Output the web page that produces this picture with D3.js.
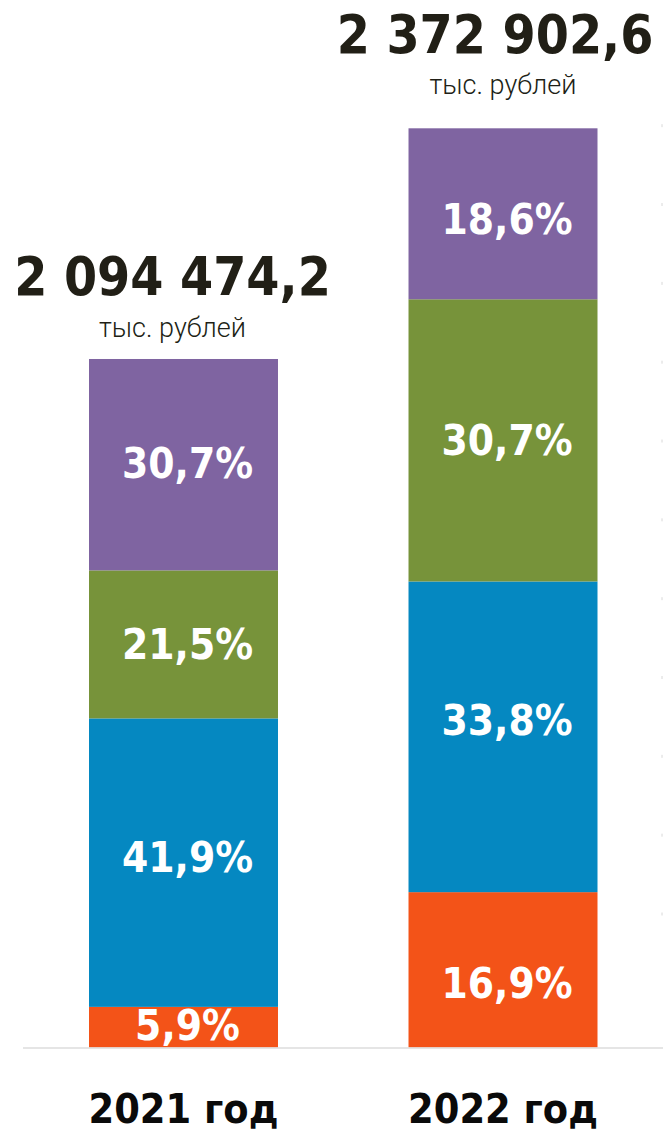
<!DOCTYPE html>
<html>
<head>
<meta charset="utf-8">
<script src="https://cdn.jsdelivr.net/npm/d3@7"></script>
<style>
  body { margin: 0; background: #fff; }
  #chart { width: 663px; height: 1132px; }
  .pct { font-family: "DejaVu Sans Condensed", "DejaVu Sans"; font-weight: bold; fill: #fff; }
  .total { font-family: "DejaVu Sans Condensed", "DejaVu Sans"; font-weight: bold; fill: #211f16; }
  .unit { font-family: Roboto, "Open Sans"; font-weight: 300; fill: #211f16; }
  .year { font-family: "DejaVu Sans Condensed", "DejaVu Sans"; font-weight: bold; fill: #0a0a0a; }
</style>
</head>
<body>
<div id="chart"></div>
<script>
// ---------------- data ----------------
const years = ["2021 год", "2022 год"];
const totals = [2094474.2, 2372902.6];
const totalLabels = ["2 094 474,2", "2 372 902,6"];
const unitLabel = "тыс. рублей";
// shares, bottom to top
const segments = ["orange", "blue", "green", "purple"];
const shares2021 = [5.9, 41.9, 21.5, 30.7];
const shares2022 = [16.9, 33.8, 30.7, 18.6];
const colors = ["#f35318", "#0588c1", "#77933a", "#7f64a1"];
const gridTicks = d3.range(0, 11);

// ---------------- layout ----------------
const width = 663, height = 1132;
const baseline = 1047.5;
const svg = d3.select("#chart").append("svg")
  .attr("width", width).attr("height", height);

const x = d3.scaleBand().domain(years).range([89, 597.5]).paddingInner(0.4085).paddingOuter(0);
// value axis does not start at zero in the original
const y = d3.scaleLinear().domain([1263500, 2372902.6]).range([baseline, 128.3]);
const color = d3.scaleOrdinal().domain(segments).range(colors);

// label nudges (px) per bar, bottom to top
const labelNudge = [[-2, -6, 0, -2], [13, -17, 0, 5]];

// faint right-side ticks
const tickScale = d3.scaleLinear().domain([0, 10]).range([125.7, 914]);
svg.append("g")
  .selectAll("line")
  .data(gridTicks)
  .join("line")
  .attr("x1", 662).attr("x2", 662)
  .attr("y1", (d) => tickScale(d) - 1.5)
  .attr("y2", (d) => tickScale(d) + 1.5)
  .attr("stroke", "#d8d8d8")
  .attr("stroke-width", 1);

// build stacked rows
const shares = [shares2021, shares2022];
const rows = [];
years.forEach((yr, i) => {
  const top = y(totals[i]);
  const h = baseline - top;
  let cum = 0;
  shares[i].forEach((s, j) => {
    const y0 = baseline - (cum / 100) * h;
    cum += s;
    const y1 = baseline - (cum / 100) * h;
    rows.push({ year: yr, seg: segments[j], share: s, y0, y1, nudge: labelNudge[i][j] });
  });
});

const bars = svg.append("g");
bars.selectAll("rect")
  .data(rows)
  .join("rect")
  .attr("x", (d) => x(d.year))
  .attr("width", x.bandwidth())
  .attr("y", (d) => d.y1)
  .attr("height", (d) => d.y0 - d.y1)
  .attr("fill", (d) => color(d.seg));

// percent labels
bars.selectAll("text")
  .data(rows)
  .join("text")
  .attr("class", "pct")
  .attr("text-anchor", "middle")
  .attr("font-size", 42)
  .attr("x", (d) => x(d.year) + x.bandwidth() / 2 + 4)
  .attr("y", (d) => (d.y0 + d.y1) / 2 + 15 + d.nudge)
  .text((d) => d3.format(".1f")(d.share).replace(".", ",") + "%");

// baseline
svg.append("line")
  .attr("x1", 23).attr("x2", width)
  .attr("y1", baseline + 0.5).attr("y2", baseline + 0.5)
  .attr("stroke", "#dcdcdc")
  .attr("stroke-width", 1.5);

// totals above bars
const totalShift = [-11, -8];
const totalGap = [64, 75];
const unitShift = [-11, 0];
const unitGap = [22, 34];

svg.selectAll(".total")
  .data(years)
  .join("text")
  .attr("class", "total")
  .attr("text-anchor", "middle")
  .attr("font-size", 53)
  .attr("x", (d, i) => x(d) + x.bandwidth() / 2 + totalShift[i])
  .attr("y", (d, i) => y(totals[i]) - totalGap[i])
  .text((d, i) => totalLabels[i]);

svg.selectAll(".unit")
  .data(years)
  .join("text")
  .attr("class", "unit")
  .attr("text-anchor", "middle")
  .attr("font-size", 27)
  .attr("x", (d, i) => x(d) + x.bandwidth() / 2 + unitShift[i])
  .attr("y", (d, i) => y(totals[i]) - unitGap[i])
  .text(unitLabel);

// year labels
svg.selectAll(".year")
  .data(years)
  .join("text")
  .attr("class", "year")
  .attr("text-anchor", "middle")
  .attr("font-size", 41)
  .attr("x", (d) => x(d) + x.bandwidth() / 2)
  .attr("y", 1123)
  .text((d) => d);
</script>
</body>
</html>
